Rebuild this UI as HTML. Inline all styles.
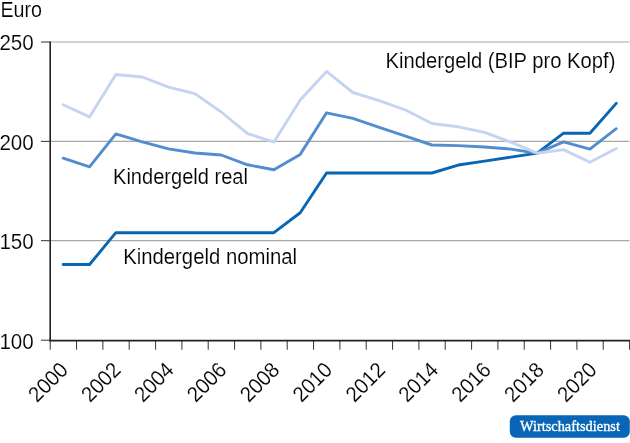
<!DOCTYPE html>
<html><head><meta charset="utf-8"><title>Kindergeld</title>
<style>
html,body{margin:0;padding:0;background:#fff;}
body{width:630px;height:443px;overflow:hidden;}
svg{display:block;}
text{font-family:"Liberation Sans",Arial,Helvetica,sans-serif;fill:#000;stroke:#fff;stroke-width:0.15;}
.logo{font-family:"Liberation Serif","Times New Roman",serif;fill:#fff;stroke:#fff;stroke-width:0.35;}
</style></head><body>
<svg width="630" height="443" viewBox="0 0 630 443">
<rect width="630" height="443" fill="#fff"/>
<line x1="50" x2="629.4" y1="42" y2="42" stroke="#a8a8a8" stroke-width="1.1"/><line x1="50" x2="629.4" y1="141.4" y2="141.4" stroke="#a8a8a8" stroke-width="1.1"/><line x1="50" x2="629.4" y1="240.65" y2="240.65" stroke="#a8a8a8" stroke-width="1.1"/>
<line x1="41" x2="50" y1="42" y2="42" stroke="#444" stroke-width="1.1"/><line x1="41" x2="50" y1="141.4" y2="141.4" stroke="#444" stroke-width="1.1"/><line x1="41" x2="50" y1="240.65" y2="240.65" stroke="#444" stroke-width="1.1"/><line x1="41" x2="50" y1="340.2" y2="340.2" stroke="#444" stroke-width="1.1"/>
<line x1="50.2" x2="50.2" y1="341" y2="349.8" stroke="#444" stroke-width="1.1"/><line x1="76.53" x2="76.53" y1="341" y2="349.8" stroke="#444" stroke-width="1.1"/><line x1="102.87" x2="102.87" y1="341" y2="349.8" stroke="#444" stroke-width="1.1"/><line x1="129.2" x2="129.2" y1="341" y2="349.8" stroke="#444" stroke-width="1.1"/><line x1="155.54" x2="155.54" y1="341" y2="349.8" stroke="#444" stroke-width="1.1"/><line x1="181.88" x2="181.88" y1="341" y2="349.8" stroke="#444" stroke-width="1.1"/><line x1="208.21" x2="208.21" y1="341" y2="349.8" stroke="#444" stroke-width="1.1"/><line x1="234.55" x2="234.55" y1="341" y2="349.8" stroke="#444" stroke-width="1.1"/><line x1="260.88" x2="260.88" y1="341" y2="349.8" stroke="#444" stroke-width="1.1"/><line x1="287.22" x2="287.22" y1="341" y2="349.8" stroke="#444" stroke-width="1.1"/><line x1="313.55" x2="313.55" y1="341" y2="349.8" stroke="#444" stroke-width="1.1"/><line x1="339.88" x2="339.88" y1="341" y2="349.8" stroke="#444" stroke-width="1.1"/><line x1="366.22" x2="366.22" y1="341" y2="349.8" stroke="#444" stroke-width="1.1"/><line x1="392.56" x2="392.56" y1="341" y2="349.8" stroke="#444" stroke-width="1.1"/><line x1="418.89" x2="418.89" y1="341" y2="349.8" stroke="#444" stroke-width="1.1"/><line x1="445.23" x2="445.23" y1="341" y2="349.8" stroke="#444" stroke-width="1.1"/><line x1="471.56" x2="471.56" y1="341" y2="349.8" stroke="#444" stroke-width="1.1"/><line x1="497.89" x2="497.89" y1="341" y2="349.8" stroke="#444" stroke-width="1.1"/><line x1="524.23" x2="524.23" y1="341" y2="349.8" stroke="#444" stroke-width="1.1"/><line x1="550.57" x2="550.57" y1="341" y2="349.8" stroke="#444" stroke-width="1.1"/><line x1="576.9" x2="576.9" y1="341" y2="349.8" stroke="#444" stroke-width="1.1"/><line x1="603.24" x2="603.24" y1="341" y2="349.8" stroke="#444" stroke-width="1.1"/><line x1="629.57" x2="629.57" y1="341" y2="349.8" stroke="#444" stroke-width="1.1"/>
<polyline points="63.2,264.51 89.53,264.51 115.87,232.68 142.2,232.68 168.54,232.68 194.88,232.68 221.21,232.68 247.55,232.68 273.88,232.68 300.22,212.78 326.55,173.0 352.88,173.0 379.22,173.0 405.56,173.0 431.89,173.0 458.23,165.04 484.56,161.06 510.89,157.08 537.23,153.11 563.57,133.21 589.9,133.21 616.24,103.37" fill="none" stroke="#0866b3" stroke-width="2.9" stroke-linecap="round" stroke-linejoin="round"/>
<polyline points="63.2,158.2 89.53,166.9 115.87,133.9 142.2,141.8 168.54,148.9 194.88,153 221.21,155 247.55,164.8 273.88,169.7 300.22,154.4 326.55,112.8 352.88,118.4 379.22,127.3 405.56,136.2 431.89,145 458.23,145.6 484.56,147 510.89,149.1 537.23,153.2 563.57,141.9 589.9,149.1 616.24,128.7" fill="none" stroke="#548dcf" stroke-width="2.9" stroke-linecap="round" stroke-linejoin="round"/>
<polyline points="63.2,104.7 89.53,116.9 115.87,74.5 142.2,77 168.54,87.2 194.88,93.6 221.21,112 247.55,133.6 273.88,142 300.22,100.1 326.55,71.4 352.88,92.5 379.22,100.6 405.56,110 431.89,123.5 458.23,126.8 484.56,132.4 510.89,142.2 537.23,153.2 563.57,149.6 589.9,162.2 616.24,148.5" fill="none" stroke="#c5d4f0" stroke-width="2.9" stroke-linecap="round" stroke-linejoin="round"/>
<line x1="50.2" x2="50.2" y1="41.5" y2="341.3" stroke="#222" stroke-width="1.6"/>
<line x1="49.4" x2="630" y1="340.6" y2="340.6" stroke="#222" stroke-width="1.6"/>
<text x="0.5" y="17.3" font-size="21.7" textLength="41.5" lengthAdjust="spacingAndGlyphs">Euro</text>
<text x="-0.6" y="49.5" font-size="21.7" textLength="34.4" lengthAdjust="spacingAndGlyphs">250</text><text x="-0.6" y="149.5" font-size="21.7" textLength="34.4" lengthAdjust="spacingAndGlyphs">200</text><text x="-0.6" y="249.2" font-size="21.7" textLength="34.4" lengthAdjust="spacingAndGlyphs">150</text><text x="-0.6" y="348.7" font-size="21.7" textLength="34.4" lengthAdjust="spacingAndGlyphs">100</text>
<text transform="translate(69.2,371.1) rotate(-45)" text-anchor="end" font-size="21.5" stroke="none" textLength="45.4" lengthAdjust="spacingAndGlyphs">2000</text><text transform="translate(122.09,371.1) rotate(-45)" text-anchor="end" font-size="21.5" stroke="none" textLength="45.4" lengthAdjust="spacingAndGlyphs">2002</text><text transform="translate(174.98,371.1) rotate(-45)" text-anchor="end" font-size="21.5" stroke="none" textLength="45.4" lengthAdjust="spacingAndGlyphs">2004</text><text transform="translate(227.87,371.1) rotate(-45)" text-anchor="end" font-size="21.5" stroke="none" textLength="45.4" lengthAdjust="spacingAndGlyphs">2006</text><text transform="translate(280.76,371.1) rotate(-45)" text-anchor="end" font-size="21.5" stroke="none" textLength="45.4" lengthAdjust="spacingAndGlyphs">2008</text><text transform="translate(333.65,371.1) rotate(-45)" text-anchor="end" font-size="21.5" stroke="none" textLength="45.4" lengthAdjust="spacingAndGlyphs">2010</text><text transform="translate(386.54,371.1) rotate(-45)" text-anchor="end" font-size="21.5" stroke="none" textLength="45.4" lengthAdjust="spacingAndGlyphs">2012</text><text transform="translate(439.43,371.1) rotate(-45)" text-anchor="end" font-size="21.5" stroke="none" textLength="45.4" lengthAdjust="spacingAndGlyphs">2014</text><text transform="translate(492.32,371.1) rotate(-45)" text-anchor="end" font-size="21.5" stroke="none" textLength="45.4" lengthAdjust="spacingAndGlyphs">2016</text><text transform="translate(545.21,371.1) rotate(-45)" text-anchor="end" font-size="21.5" stroke="none" textLength="45.4" lengthAdjust="spacingAndGlyphs">2018</text><text transform="translate(598.1,371.1) rotate(-45)" text-anchor="end" font-size="21.5" stroke="none" textLength="45.4" lengthAdjust="spacingAndGlyphs">2020</text>
<text x="385.6" y="67.6" font-size="21.7" textLength="229.8" lengthAdjust="spacingAndGlyphs">Kindergeld (BIP pro Kopf)</text>
<text x="113" y="184.1" font-size="21.7" textLength="135" lengthAdjust="spacingAndGlyphs">Kindergeld real</text>
<text x="123.2" y="264.2" font-size="21.7" textLength="173.8" lengthAdjust="spacingAndGlyphs">Kindergeld nominal</text>
<rect x="509.8" y="415.2" width="120" height="22.6" rx="6" ry="6" fill="#0966b6"/>
<text class="logo" x="520" y="431.0" font-size="15.2" textLength="99.9" lengthAdjust="spacingAndGlyphs" stroke="#fff" stroke-width="0.35">Wirtschaftsdienst</text>
</svg>
</body></html>
